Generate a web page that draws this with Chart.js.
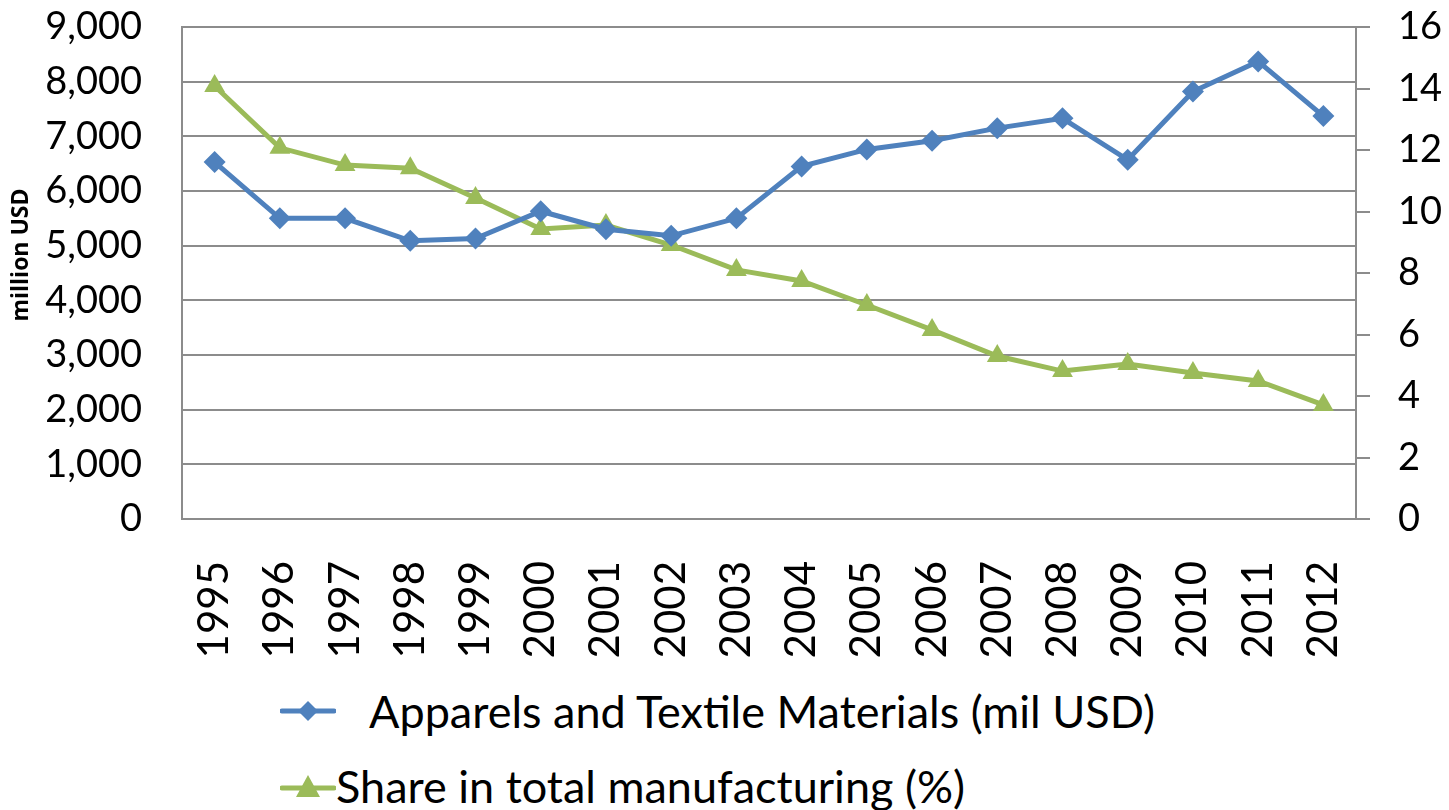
<!DOCTYPE html>
<html>
<head>
<meta charset="utf-8">
<script src="https://cdn.jsdelivr.net/npm/chart.js@4"></script>
<style>
  html, body { margin: 0; padding: 0; background: #fff; }
  #wrap { position: relative; width: 1449px; height: 810px; font-family: Lato, sans-serif; }
  #chart { position: absolute; left: 0; top: 0; }
  .leg { position: absolute; left: 280px; height: 50px; display: flex; align-items: center; font-size: 45px; color: #000; white-space: pre; }
  .leg svg { display: block; }
</style>
</head>
<body>
<div id="wrap">
  <canvas id="chart" width="1449" height="680"></canvas>
  <div class="leg" style="top: 686px;">
    <svg width="56" height="30"><line x1="2" y1="15" x2="54" y2="15" stroke="#4F81BD" stroke-width="5" stroke-linecap="round"/><polygon points="28,5 38,15 28,25 18,15" fill="#4F81BD"/></svg><span>   Apparels and Textile Materials (mil USD)</span>
  </div>
  <div class="leg" style="top: 761px;">
    <svg width="56" height="30"><line x1="2" y1="17" x2="54" y2="17" stroke="#9BBB59" stroke-width="5" stroke-linecap="round"/><polygon points="28,4 40,26 16,26" fill="#9BBB59"/></svg><span>Share in total manufacturing (%)</span>
  </div>
</div>
<script>
  const years = ['1995', '1996', '1997', '1998', '1999', '2000', '2001', '2002', '2003',
    '2004', '2005', '2006', '2007', '2008', '2009', '2010', '2011', '2012'];
  const apparelsValues = [6530, 5500, 5500, 5090, 5130, 5630, 5300, 5180, 5500,
    6450, 6760, 6920, 7150, 7330, 6570, 7820, 8370, 7370];
  const shareValues = [14.08, 12.07, 11.51, 11.41, 10.44, 9.43, 9.56, 8.91, 8.10,
    7.74, 6.96, 6.15, 5.30, 4.81, 5.04, 4.75, 4.49, 3.71];
  const leftTicks = [0, 1000, 2000, 3000, 4000, 5000, 6000, 7000, 8000, 9000];
  const rightTicks = [0, 2, 4, 6, 8, 10, 12, 14, 16];
  const leftTitle = 'million USD';

  const gridGrey = '#8c8c8c';
  const yFont = { family: 'Lato', size: 38 };
  const xFont = { family: 'Lato', size: 42 };

  // axis title drawn by hand so it can sit where the original has it
  const axisTitle = {
    id: 'axisTitle',
    afterDraw(chart) {
      const ctx = chart.ctx;
      ctx.save();
      ctx.translate(21, 255);
      ctx.rotate(-Math.PI / 2);
      ctx.font = 'bold 23px "Open Sans"';
      ctx.fillStyle = '#000';
      ctx.textAlign = 'center';
      ctx.textBaseline = 'middle';
      ctx.fillText(leftTitle, 0, 0);
      ctx.restore();
    }
  };

  new Chart(document.getElementById('chart'), {
    type: 'line',
    data: {
      labels: years,
      datasets: [{
        label: 'Apparels and Textile Materials (mil USD)',
        data: apparelsValues,
        yAxisID: 'y',
        borderColor: '#4F81BD',
        backgroundColor: '#4F81BD',
        borderWidth: 5,
        pointStyle: 'rectRot',
        pointRadius: 11,
        pointBorderWidth: 0,
        tension: 0
      }, {
        label: 'Share in total manufacturing (%)',
        data: shareValues,
        yAxisID: 'y1',
        borderColor: '#9BBB59',
        backgroundColor: '#9BBB59',
        borderWidth: 5,
        pointStyle: 'triangle',
        pointRadius: 12,
        pointBorderWidth: 0,
        tension: 0
      }]
    },
    options: {
      responsive: false,
      animation: false,
      layout: { autoPadding: false, padding: { top: 27, left: 0, right: 0, bottom: 0 } },
      plugins: { legend: { display: false }, tooltip: { enabled: false } },
      scales: {
        x: {
          offset: true,
          grid: { display: false, drawTicks: false },
          border: { display: false },
          ticks: { color: '#000', font: xFont, minRotation: 90, maxRotation: 90, padding: 42, autoSkip: false },
          afterFit: s => { s.height = 161; s.paddingLeft = 0; s.paddingRight = 0; }
        },
        y: {
          position: 'left',
          min: 0, max: 9000,
          afterBuildTicks: s => { s.ticks = leftTicks.map(v => ({ value: v })); },
          grid: { color: gridGrey, lineWidth: 2, drawTicks: false },
          border: { display: true, color: gridGrey, width: 2 },
          ticks: { color: '#000', font: yFont, padding: 40, callback: v => v.toLocaleString('en-US') },
          afterFit: s => { s.width = 182; s.paddingTop = 0; s.paddingBottom = 0; }
        },
        y1: {
          position: 'right',
          min: 0, max: 16,
          afterBuildTicks: s => { s.ticks = rightTicks.map(v => ({ value: v })); },
          grid: { drawOnChartArea: false, drawTicks: true, tickLength: 14, color: gridGrey, lineWidth: 2 },
          border: { display: true, color: gridGrey, width: 2 },
          ticks: { color: '#000', font: yFont, padding: 28 },
          afterFit: s => { s.width = 93; s.paddingTop = 0; s.paddingBottom = 0; }
        }
      }
    },
    plugins: [axisTitle]
  });
</script>
</body>
</html>
